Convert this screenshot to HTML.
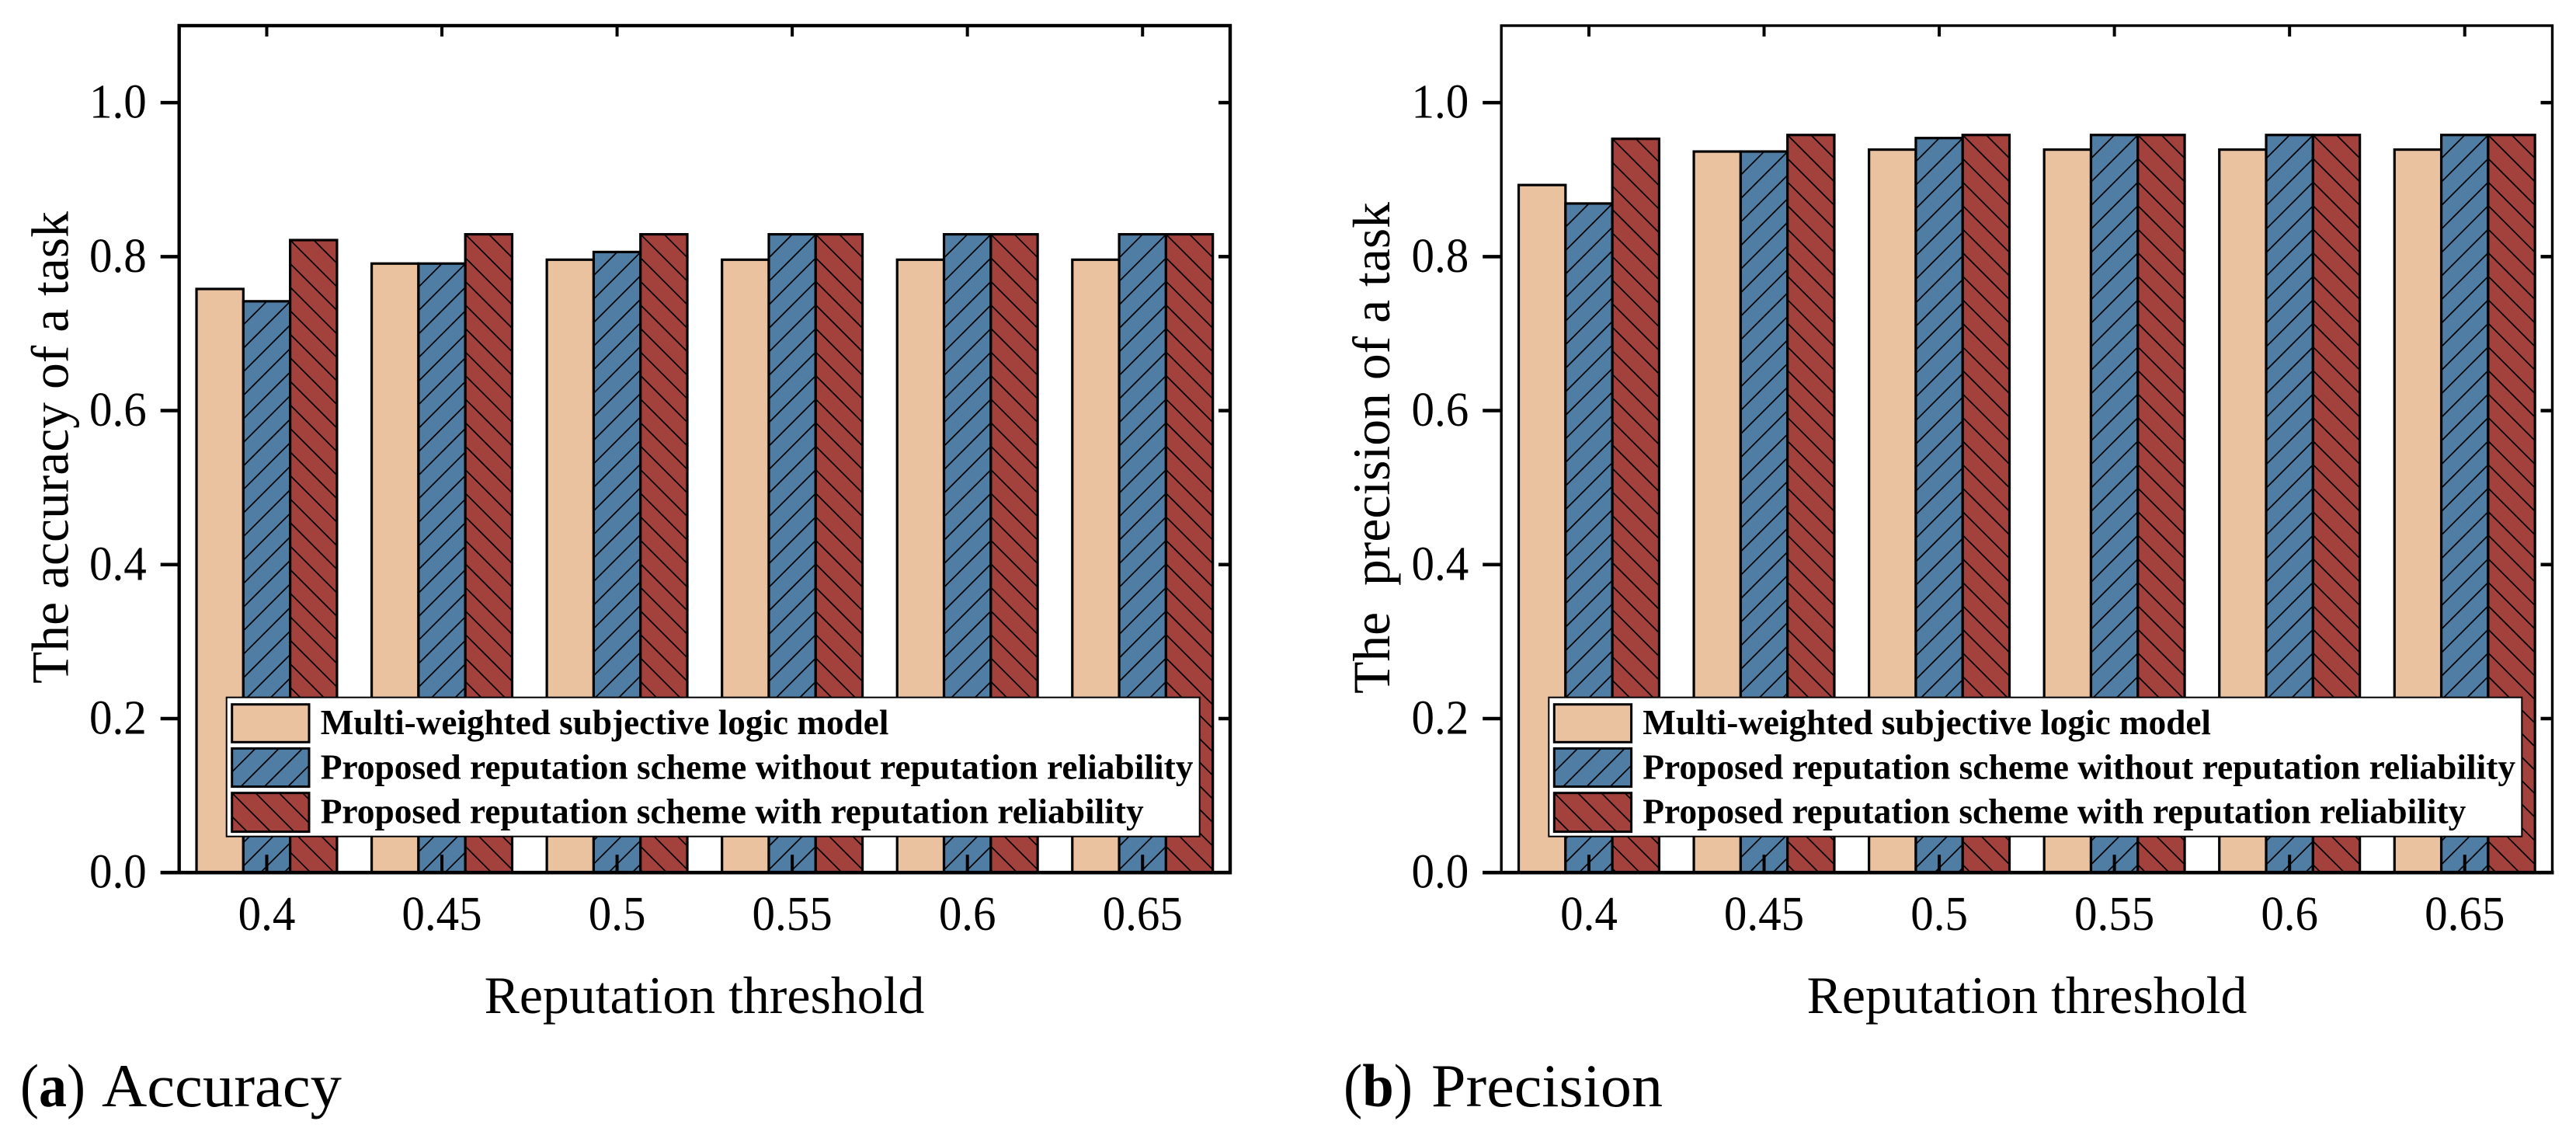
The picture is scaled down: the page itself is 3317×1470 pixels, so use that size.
<!DOCTYPE html>
<html>
<head>
<meta charset="utf-8">
<title>Accuracy and precision versus reputation threshold</title>
<style>
html,body{margin:0;padding:0;background:#fff;width:3317px;height:1470px;overflow:hidden;}
svg{display:block;}
text{font-family:"Liberation Serif",serif;fill:#000;white-space:pre;}
.legend-text{font-size:46px;font-weight:bold;}
.axis-title{font-size:67.8px;}
.caption{font-size:78px;}
</style>
</head>
<body>
<svg id="figure" xmlns="http://www.w3.org/2000/svg" width="3317" height="1470" viewBox="0 0 3317 1470">

<g id="panel-a">
<g id="marks-a"></g>
<g id="axes-a"></g>
<g>
<rect x="291.7" y="897.7" width="1253" height="179" fill="#fff" stroke="#000" stroke-width="2"/>
<g id="legend-swatches-a"></g>
<text class="legend-text" x="412.7" y="945" textLength="731.7" lengthAdjust="spacingAndGlyphs">Multi-weighted subjective logic model</text>
<text class="legend-text" x="412.7" y="1002.3" textLength="1123.8" lengthAdjust="spacingAndGlyphs">Proposed reputation scheme without reputation reliability</text>
<text class="legend-text" x="412.7" y="1059.3" textLength="1060" lengthAdjust="spacingAndGlyphs">Proposed reputation scheme with reputation reliability</text>
</g>
<text class="axis-title" transform="translate(87.7,880) rotate(-90)" textLength="608" lengthAdjust="spacingAndGlyphs">The accuracy of a task</text>
<text class="axis-title" text-anchor="middle" x="907" y="1304">Reputation threshold</text>
<text class="caption" x="26" y="1424" textLength="84" lengthAdjust="spacingAndGlyphs">(<tspan font-weight="bold">a</tspan>)</text>
<text class="caption" x="131" y="1424" textLength="309" lengthAdjust="spacingAndGlyphs">Accuracy</text>
</g>

<g id="panel-b">
<g id="marks-b"></g>
<g id="axes-b"></g>
<g transform="translate(1702.6,0)">
<rect x="291.7" y="897.7" width="1253" height="179" fill="#fff" stroke="#000" stroke-width="2"/>
<g id="legend-swatches-b"></g>
<text class="legend-text" x="412.7" y="945" textLength="731.7" lengthAdjust="spacingAndGlyphs">Multi-weighted subjective logic model</text>
<text class="legend-text" x="412.7" y="1002.3" textLength="1123.8" lengthAdjust="spacingAndGlyphs">Proposed reputation scheme without reputation reliability</text>
<text class="legend-text" x="412.7" y="1059.3" textLength="1060" lengthAdjust="spacingAndGlyphs">Proposed reputation scheme with reputation reliability</text>
</g>
<text class="axis-title" transform="translate(1789,893) rotate(-90)" textLength="633" lengthAdjust="spacingAndGlyphs">The  precision of a task</text>
<text class="axis-title" text-anchor="middle" x="2610" y="1304">Reputation threshold</text>
<text class="caption" x="1730" y="1424" textLength="89" lengthAdjust="spacingAndGlyphs">(<tspan font-weight="bold">b</tspan>)</text>
<text class="caption" x="1843" y="1424" textLength="298" lengthAdjust="spacingAndGlyphs">Precision</text>
</g>
</svg>

<script>
const categories = ['0.4', '0.45', '0.5', '0.55', '0.6', '0.65'];
const yTickValues = [0, 0.2, 0.4, 0.6, 0.8, 1.0];
const yTickLabels = ['0.0', '0.2', '0.4', '0.6', '0.8', '1.0'];
const yMax = 1.1;

const accuracyMultiWeighted = [0.758, 0.791, 0.796, 0.796, 0.796, 0.796];
const accuracyWithoutReliability = [0.742, 0.791, 0.806, 0.829, 0.829, 0.829];
const accuracyWithReliability = [0.8215, 0.829, 0.829, 0.829, 0.829, 0.829];

const precisionMultiWeighted = [0.893, 0.9365, 0.939, 0.939, 0.939, 0.939];
const precisionWithoutReliability = [0.869, 0.9365, 0.954, 0.958, 0.958, 0.958];
const precisionWithReliability = [0.953, 0.958, 0.958, 0.958, 0.958, 0.958];

const SVGNS = 'http://www.w3.org/2000/svg';
const plotTop = 33;
const plotBottom = 1123.2;
const plotWidth = 1353.3;
const barWidth = 60.3;
const hatchPeriod = 30.3;
const seriesFill = ['#EAC2A0', '#4F7DA3', '#A3423D'];
const seriesNames = ['multi-weighted', 'without-reliability', 'with-reliability'];

function make(tag, attrs, parent) {
  const node = document.createElementNS(SVGNS, tag);
  Object.keys(attrs).forEach(function (k) { node.setAttribute(k, attrs[k]); });
  if (parent) parent.appendChild(node);
  return node;
}

function yScale(v) {
  return plotBottom - (v / yMax) * (plotBottom - plotTop);
}

function xScale(left, i) {
  return left + (i + 0.5) * (plotWidth / categories.length);
}

// Hatch segments are cut exactly to the rectangle; the hatch is anchored on its top-left corner.
function hatchPath(x, y, w, h, seriesIndex) {
  let d = '';
  if (seriesIndex === 1) {
    for (let c = hatchPeriod; c < w + h; c += hatchPeriod) {
      const sx = Math.min(c, w);
      const sy = c - sx;
      const len = Math.min(sx, h - sy);
      d += 'M' + (x + sx) + ' ' + (y + sy) + 'L' + (x + sx - len) + ' ' + (y + sy + len);
    }
  } else if (seriesIndex === 2) {
    const firstStep = -Math.floor(h / hatchPeriod);
    const lastStep = Math.floor(w / hatchPeriod);
    for (let k = firstStep; k <= lastStep; k++) {
      const c = k * hatchPeriod;
      const sx = Math.max(c, 0);
      const sy = sx - c;
      const len = Math.min(w - sx, h - sy);
      d += 'M' + (x + sx) + ' ' + (y + sy) + 'L' + (x + sx + len) + ' ' + (y + sy + len);
    }
  }
  return d;
}

function hatchedRect(parent, x, y, w, h, seriesIndex, strokeWidth) {
  make('rect', { x: x, y: y, width: w, height: h, fill: seriesFill[seriesIndex] }, parent);
  if (seriesIndex > 0) {
    make('path', { d: hatchPath(x, y, w, h, seriesIndex), stroke: '#000', 'stroke-width': 1.7, fill: 'none' }, parent);
  }
  return make('rect', { x: x, y: y, width: w, height: h, fill: 'none', stroke: '#000', 'stroke-width': strokeWidth }, parent);
}

function drawBars(key, left, seriesList) {
  const parent = document.getElementById('marks-' + key);
  seriesList.forEach(function (values, s) {
    values.forEach(function (v, i) {
      const x = xScale(left, i) + (s - 1.5) * barWidth;
      const y = yScale(v);
      const outline = hatchedRect(parent, x, y, barWidth, plotBottom - y, s, 3.2);
      
      
    });
  });
}

function drawLegendSwatches(key) {
  const parent = document.getElementById('legend-swatches-' + key);
  const swatchTops = [906.7, 963.4, 1020.7];
  const swatchHeights = [48.6, 49.2, 49.9];
  swatchTops.forEach(function (top, s) {
    const outline = hatchedRect(parent, 298.7, top, 99.3, swatchHeights[s], s, 3);
    
    
  });
}

function drawAxes(key, left, frameWidth) {
  const parent = document.getElementById('axes-' + key);
  const right = left + plotWidth;

  const frame = make('rect', { x: left, y: plotTop, width: plotWidth, height: plotBottom - plotTop, fill: 'none', stroke: '#000', 'stroke-width': frameWidth }, parent);
  
  

  yTickValues.forEach(function (v, i) {
    const y = yScale(v);
    const tick = make('line', { x1: left - 24, x2: left, y1: y, y2: y, stroke: '#000', 'stroke-width': 4.5 }, parent);
    
    

    const rightTick = make('line', { x1: right - 15, x2: right, y1: y, y2: y, stroke: '#000', 'stroke-width': 4.5 }, parent);
    
    

    const label = make('text', { 'text-anchor': 'end', 'font-size': 59, transform: 'translate(' + (left - 42) + ',' + (y + 19.5) + ') scale(1,1.06)' }, parent);
    label.textContent = yTickLabels[i];
    
    
  });

  categories.forEach(function (c, i) {
    const x = xScale(left, i);
    const bottomTick = make('line', { x1: x, x2: x, y1: plotBottom - 23, y2: plotBottom, stroke: '#000', 'stroke-width': 4 }, parent);
    
    

    const topTick = make('line', { x1: x, x2: x, y1: plotTop, y2: plotTop + 14, stroke: '#000', 'stroke-width': 4 }, parent);
    
    

    const label = make('text', { 'text-anchor': 'middle', 'font-size': 59, transform: 'translate(' + x + ',1197) scale(1,1.06)' }, parent);
    label.textContent = c;
    
    
  });

  const baseline = make('line', { x1: left - 24, x2: right + 2, y1: plotBottom, y2: plotBottom, stroke: '#000', 'stroke-width': 4.7 }, parent);
  
  
}

drawBars('a', 230.7, [accuracyMultiWeighted, accuracyWithoutReliability, accuracyWithReliability]);
drawAxes('a', 230.7, 4.4);
drawLegendSwatches('a');
drawBars('b', 1933.2, [precisionMultiWeighted, precisionWithoutReliability, precisionWithReliability]);
drawAxes('b', 1933.2, 3.4);
drawLegendSwatches('b');
</script>
</body>
</html>
